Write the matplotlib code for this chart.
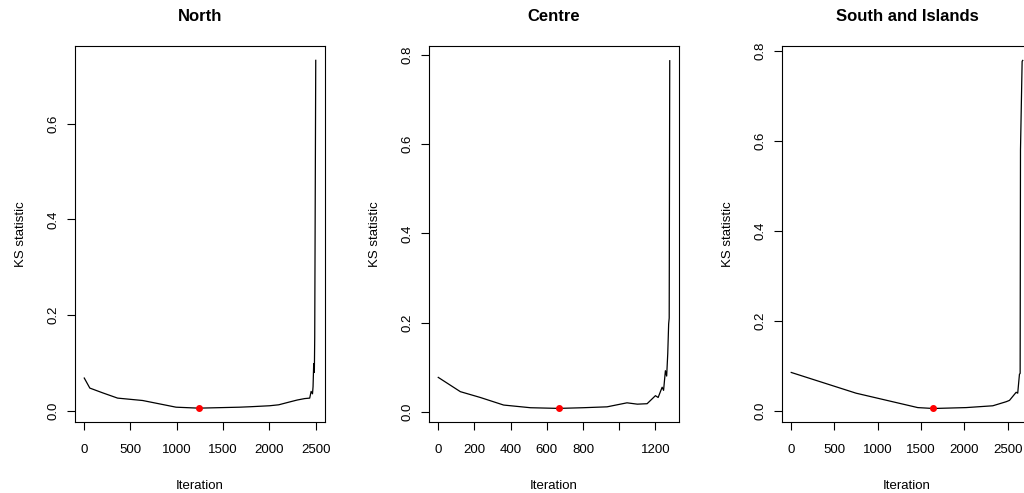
import numpy as np
import matplotlib.pyplot as plt

plt.rcParams["font.family"] = ["Liberation Sans", "DejaVu Sans"]

titles = ["North", "Centre", "South and Islands"]

# KS statistic path per region (iteration, value)
north_iter = [1, 61, 200, 361, 631, 992, 1237, 1677, 1800, 2002, 2100, 2219,
              2300, 2380, 2435, 2450, 2465, 2471, 2478, 2485, 2489, 2500]
north_ks = [0.068, 0.047, 0.037, 0.026, 0.021, 0.007, 0.005, 0.007, 0.008,
            0.010, 0.012, 0.018, 0.022, 0.025, 0.026, 0.040, 0.035, 0.050,
            0.098, 0.080, 0.153, 0.733]

centre_iter = [1, 123, 233, 362, 510, 666, 800, 933, 1043, 1100, 1154, 1200,
               1215, 1237, 1245, 1255, 1262, 1268, 1273, 1276, 1279]
centre_ks = [0.077, 0.045, 0.032, 0.015, 0.009, 0.0075, 0.009, 0.011, 0.020,
             0.017, 0.018, 0.036, 0.032, 0.055, 0.048, 0.092, 0.080, 0.13,
             0.197, 0.21, 0.787]

south_iter = [1, 749, 1461, 1642, 2020, 2327, 2481, 2520, 2597, 2615, 2635,
              2643, 2647, 2666, 2673]
south_ks = [0.085, 0.039, 0.007, 0.005, 0.007, 0.011, 0.020, 0.023, 0.041,
            0.039, 0.081, 0.083, 0.579, 0.776, 0.778]

# iteration with the smallest KS value (red point)
best_iter = [1237, 666, 1642]
best_ks = [0.005, 0.0075, 0.005]

series = [(north_iter, north_ks), (centre_iter, centre_ks), (south_iter, south_ks)]
xticks = [[0, 500, 1000, 1500, 2000, 2500],
          [0, 200, 400, 600, 800, 1000, 1200],
          [0, 500, 1000, 1500, 2000, 2500]]
xticklabels = [["0", "500", "1000", "1500", "2000", "2500"],
               ["0", "200", "400", "600", "800", "", "1200"],
               ["0", "500", "1000", "1500", "2000", "2500"]]
yticks = [[0.0, 0.2, 0.4, 0.6],
          [0.0, 0.2, 0.4, 0.6, 0.8],
          [0.0, 0.2, 0.4, 0.6, 0.8]]
ylims = [(-0.024, 0.763), (-0.023, 0.82), (-0.025, 0.81)]

W, H = 1024, 493
fig = plt.figure(figsize=(W / 100, H / 100), dpi=100)
lefts = [75, 429, 782]

for i in range(3):
    ax = fig.add_axes([lefts[i] / W, (H - 422) / H, 250 / W, 376 / H])
    x, y = series[i]
    ax.plot(x, y, color="black", lw=0.9)
    ax.plot(best_iter[i], best_ks[i], "o", color="red", ms=4, mec="red")
    pad = 0.04 * (max(x) - min(x))
    ax.set_xlim(min(x) - pad, max(x) + pad)
    ax.set_ylim(*ylims[i])
    ax.set_xticks(xticks[i])
    ax.set_xticklabels(xticklabels[i])
    ax.set_yticks(yticks[i])
    ax.set_yticklabels([f"{v:.1f}" for v in yticks[i]], rotation=90, va="center")
    ax.tick_params(direction="out", length=6, width=0.8, labelsize=9.5, pad=10)
    ax.tick_params(axis="y", pad=5)
    for s in ax.spines.values():
        s.set_linewidth(0.8)
    ax.set_title(titles[i], fontsize=12, fontweight="bold", pad=18)
    ax.set_xlabel("Iteration", fontsize=9.5, labelpad=17)
    ax.set_ylabel("KS statistic", fontsize=9.5, labelpad=15)

fig.savefig("out.png", dpi=100)
